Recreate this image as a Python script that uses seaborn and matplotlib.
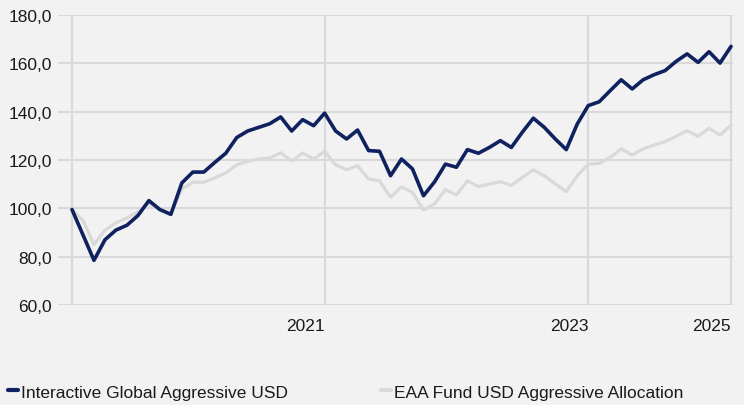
import matplotlib
matplotlib.use("Agg")
import matplotlib.pyplot as plt
import seaborn as sns
import pandas as pd
from matplotlib.ticker import FuncFormatter
from matplotlib.lines import Line2D

# ---- data ----
series_names = ["Interactive Global Aggressive USD", "EAA Fund USD Aggressive Allocation"]
fund_values = [99.5, 89, 78.5, 87, 91, 93, 97, 103.2, 99.5, 97.5,
               110.5, 115, 115, 119, 122.8, 129.3, 132, 133.5, 135, 137.8,
               132, 136.7, 134.2, 139.4, 132, 128.7, 132.4, 123.9, 123.6, 113.5,
               120.4, 116.3, 105.2, 110.9, 118.3, 117, 124.3, 122.8, 125.2, 128,
               125.2, 131.5, 137.3, 133.5, 128.7, 124.3, 134.9, 142.5, 144.1, 148.7,
               153.2, 149.4, 153.2, 155.3, 157, 160.8, 163.9, 160.4, 164.8, 160.1, 167]
peer_values = [99.5, 95, 85, 91, 94, 96, 98.5, 102, 99.5, 98,
               108, 110.8, 110.8, 112.6, 114.6, 118, 119.5, 120.4, 120.8, 123,
               119.6, 122.9, 120.4, 123.6, 118, 116, 117.6, 112.1, 111.4, 104.6,
               108.9, 106.6, 99.3, 101.8, 107.7, 105.5, 111.4, 109, 110.1, 111,
               109.5, 112.8, 115.9, 113.5, 110.1, 106.9, 113.5, 118.3, 118.6, 121.1,
               124.6, 122.1, 124.6, 126.2, 127.6, 129.8, 132.1, 129.8, 133.1, 130.3, 134.5]
period_index = list(range(len(fund_values)))
xtick_positions = [0, 23, 47, 60]
xtick_labels = ["", "2021", "2023", "2025"]
ytick_values = [60, 80, 100, 120, 140, 160, 180]

# ---- style ----
BG = "#f2f2f2"
GRID = "#d9d9d9"
DARK = "#0f215e"
LIGHT = "#d9d9d9"
TXT = "#1a1a1a"
FS = 12.5

sns.set_style("white")
plt.rcParams["font.family"] = ["Liberation Sans", "DejaVu Sans"]

fig = plt.figure(figsize=(7.44, 4.06), dpi=100, facecolor=BG)
ax = fig.add_axes([58 / 744, 100 / 406, 675 / 744, 290 / 406])
ax.set_facecolor(BG)

df_peer = pd.DataFrame({"x": period_index, "v": peer_values})
df_fund = pd.DataFrame({"x": period_index, "v": fund_values})
sns.lineplot(data=df_peer, x="x", y="v", color=LIGHT, linewidth=2.3, ax=ax, zorder=3)
sns.lineplot(data=df_fund, x="x", y="v", color=DARK, linewidth=2.6, ax=ax, zorder=4)

ax.set_xlim(-1.275, 60.18)
ax.set_ylim(60, 180)
ax.set_yticks(ytick_values)
ax.yaxis.set_major_formatter(FuncFormatter(lambda v, p: f"{v:.1f}".replace(".", ",")))
ax.set_xticks(xtick_positions)
ax.set_xticklabels(xtick_labels, ha="right")
ax.set_xlabel("")
ax.set_ylabel("")
ax.grid(True, color=GRID, linewidth=1.5)
ax.set_axisbelow(True)
for s in ax.spines.values():
    s.set_visible(False)
ax.tick_params(axis="x", length=8.6, width=1.5, color=GRID, pad=1, labelsize=FS, labelcolor=TXT)
ax.tick_params(axis="y", length=0, pad=4.5, labelsize=FS, labelcolor=TXT)
for lbl in ax.get_xticklabels():
    lbl.set_horizontalalignment("right")

# ---- legend ----
h1 = Line2D([0], [0], color=DARK, linewidth=3)
h2 = Line2D([0], [0], color=LIGHT, linewidth=3)
common = dict(loc="center left", frameon=False, fontsize=FS, handlelength=0.6,
              handletextpad=0.15, borderpad=0, borderaxespad=0, labelcolor=TXT)
fig.legend([h1], [series_names[0]], bbox_to_anchor=(8 / 744, 1 - 393 / 406), **common)
fig.legend([h2], [series_names[1]], bbox_to_anchor=(381 / 744, 1 - 393 / 406), **common)

fig.savefig("out.png", dpi=100, facecolor=BG)
